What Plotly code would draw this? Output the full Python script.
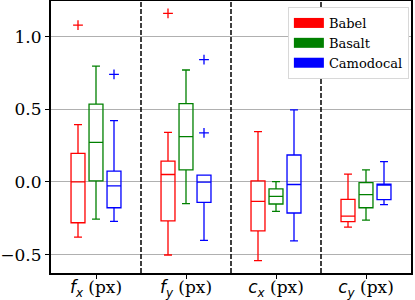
import plotly.graph_objects as go

groups = ["f_x", "f_y", "c_x", "c_y"]
group_labels = [
    '<span style="font-family:DejaVu Sans"><i>f</i><sub><i>x</i></sub></span> (px)',
    '<span style="font-family:DejaVu Sans"><i>f</i><sub><i>y</i></sub></span> (px)',
    '<span style="font-family:DejaVu Sans"><i>c</i><sub><i>x</i></sub></span> (px)',
    '<span style="font-family:DejaVu Sans"><i>c</i><sub><i>y</i></sub></span> (px)',
]
series = ["Babel", "Basalt", "Camodocal"]
colors = ["red", "green", "blue"]
offsets = [-0.2, 0.0, 0.2]

# per-series stats for groups f_x, f_y, c_x, c_y
lower = {
    "Babel": [-0.380, -0.503, -0.542, -0.311],
    "Basalt": [-0.256, -0.150, -0.203, -0.263],
    "Camodocal": [-0.272, -0.403, -0.406, -0.157],
}
q1 = {
    "Babel": [-0.281, -0.268, -0.337, -0.274],
    "Basalt": [0.007, 0.083, -0.152, -0.178],
    "Camodocal": [-0.178, -0.141, -0.214, -0.122],
}
median = {
    "Babel": [0.000, 0.051, -0.134, -0.235],
    "Basalt": [0.272, 0.311, -0.099, -0.088],
    "Camodocal": [-0.028, -0.002, -0.018, -0.020],
}
q3 = {
    "Babel": [0.196, 0.143, 0.007, -0.120],
    "Basalt": [0.535, 0.539, -0.048, -0.005],
    "Camodocal": [0.074, 0.046, 0.185, -0.016],
}
upper = {
    "Babel": [0.394, 0.341, 0.346, 0.053],
    "Basalt": [0.797, 0.770, 0.002, 0.083],
    "Camodocal": [0.422, 0.046, 0.496, 0.140],
}
# outliers: (group index, value)
outliers = {
    "Babel": [(0, 1.079), (1, 1.160)],
    "Basalt": [],
    "Camodocal": [(0, 0.740), (1, 0.841), (1, 0.337)],
}

fig = go.Figure()
for s, c, off in zip(series, colors, offsets):
    xs = [i + 1 + off for i in range(len(groups))]
    fig.add_trace(go.Box(
        x=xs, q1=q1[s], median=median[s], q3=q3[s],
        lowerfence=lower[s], upperfence=upper[s],
        width=0.155, whiskerwidth=0.57,
        fillcolor="rgba(0,0,0,0)", line=dict(color=c, width=1.3),
        boxpoints=False, showlegend=False, hoverinfo="skip",
    ))
    if outliers[s]:
        fig.add_trace(go.Scatter(
            x=[g + 1 + off for g, v in outliers[s]],
            y=[v for g, v in outliers[s]],
            mode="markers",
            marker=dict(symbol="cross-thin", size=7, line=dict(color=c, width=1.3)),
            showlegend=False, hoverinfo="skip",
        ))
for s, c in zip(series, colors):
    fig.add_trace(go.Scatter(x=[None], y=[None], mode="lines", name=s,
                             line=dict(color=c, width=10)))

for b in [1.5, 2.5, 3.5]:
    fig.add_vline(x=b, line=dict(color="black", width=1.5, dash="5px,2px"))

fig.update_layout(
    width=415, height=300,
    margin=dict(l=51, r=4, t=1, b=27, autoexpand=False),
    plot_bgcolor="white", paper_bgcolor="white",
    boxmode="overlay",
    font=dict(family="DejaVu Serif", size=17, color="black"),
    legend=dict(x=0.658, y=0.978, xanchor="left", yanchor="top",
                bgcolor="white", bordercolor="#d8d8d8", borderwidth=1,
                itemwidth=30,
                font=dict(family="DejaVu Serif", size=13)),
)
fig.update_xaxes(
    range=[0.5, 4.5], tickvals=[1, 2, 3, 4], ticktext=group_labels,
    showgrid=False, zeroline=False, showline=True, mirror=True,
    linecolor="black", linewidth=2, ticks="outside", ticklen=4,
    tickwidth=1.2, tickcolor="black", automargin=False,
    ticklabelstandoff=-6,
)
fig.update_yaxes(
    range=[-0.627, 1.245], tickvals=[-0.5, 0.0, 0.5, 1.0],
    ticktext=["\u22120.5", "0.0", "0.5", "1.0"],
    showgrid=True, gridcolor="#b0b0b0", gridwidth=1, zeroline=False,
    showline=True, mirror=True, linecolor="black", linewidth=2,
    ticks="outside", ticklen=4, tickwidth=1.2, tickcolor="black",
    automargin=False,
)

fig.write_html("out.html", config={"displayModeBar": False},
               post_script="document.body.style.margin='0';")
